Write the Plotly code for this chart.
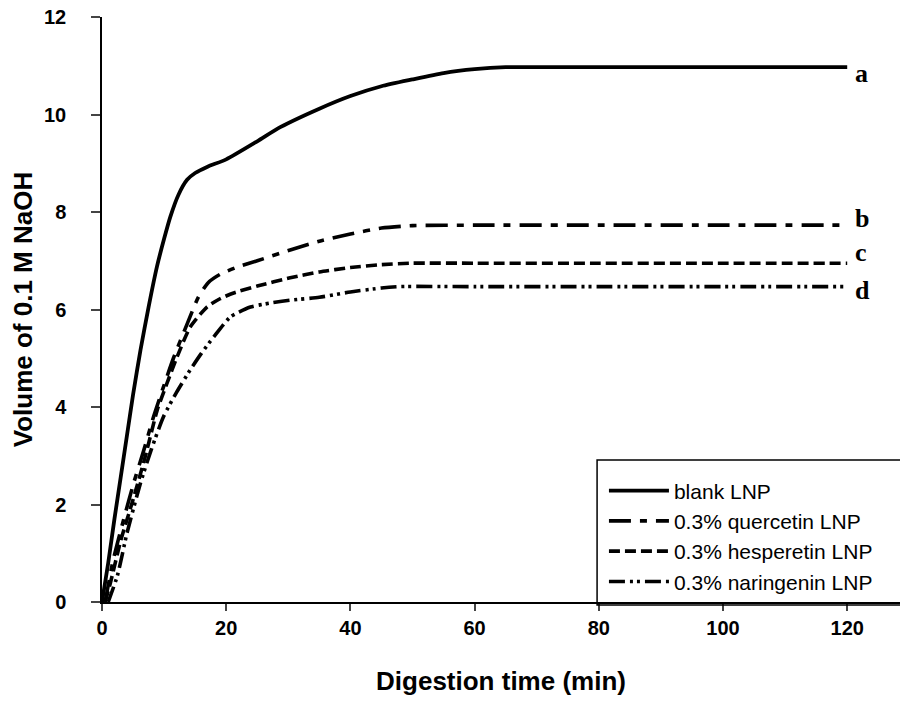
import plotly.graph_objects as go

# ---- data ----
blank_x = [0, 1, 2, 3, 4, 5, 6.2, 7.5, 8.85, 10, 11, 12.3, 13.7, 15, 17, 20, 25, 28.7, 35, 40, 45, 50, 55, 60, 65, 80, 100, 120]
blank_y = [0, 0.8, 1.7, 2.55, 3.4, 4.25, 5.17, 6.05, 6.88, 7.45, 7.9, 8.35, 8.66, 8.8, 8.93, 9.08, 9.45, 9.74, 10.12, 10.38, 10.58, 10.72, 10.85, 10.93, 10.97, 10.97, 10.97, 10.97]

quer_x = [0.5, 1.8, 3.5, 5.1, 6.7, 8.3, 10, 11.5, 13.7, 15.5, 17.1, 19, 21.8, 25, 30.3, 35, 40, 45, 50, 60, 80, 100, 120]
quer_y = [0, 0.86, 1.7, 2.44, 3.1, 3.8, 4.45, 5.0, 5.7, 6.25, 6.55, 6.72, 6.87, 7.0, 7.22, 7.4, 7.55, 7.67, 7.72, 7.73, 7.73, 7.73, 7.73]

hesp_x = [0.5, 1.35, 3, 5, 7, 8.9, 10.5, 12.1, 14.2, 16.9, 19, 21.2, 25, 30.3, 35, 40, 45, 50, 60, 80, 100, 120]
hesp_y = [0, 0.39, 1.25, 2.1, 3.0, 3.94, 4.5, 5.03, 5.64, 6.05, 6.22, 6.34, 6.48, 6.65, 6.77, 6.86, 6.92, 6.95, 6.95, 6.95, 6.95, 6.95]

nari_x = [1, 2.5, 4, 6.2, 8, 9.9, 12, 14.2, 16, 18, 20.7, 23.9, 27, 30.3, 35, 40, 45, 48, 60, 80, 100, 120]
nari_y = [0, 0.55, 1.4, 2.44, 3.15, 3.8, 4.3, 4.76, 5.1, 5.44, 5.85, 6.05, 6.13, 6.19, 6.25, 6.36, 6.44, 6.47, 6.47, 6.47, 6.47, 6.47]

series_names = ["blank LNP", "0.3% quercetin LNP", "0.3% hesperetin LNP", "0.3% naringenin LNP"]
end_labels = ["a", "b", "c", "d"]
label_y = [10.85, 7.86, 7.16, 6.38]

x_ticks = [0, 20, 40, 60, 80, 100, 120]
y_ticks = [0, 2, 4, 6, 8, 10, 12]

xs = [blank_x, quer_x, hesp_x, nari_x]
ys = [blank_y, quer_y, hesp_y, nari_y]
dashes = ["solid", "22px,9px,7px,9px", "11px,5px", "16px,5px,3px,4px,3px,5px"]
widths = [3.8, 3.6, 3.6, 3.6]

fig = go.Figure()
for i in range(4):
    fig.add_trace(go.Scatter(
        x=xs[i], y=ys[i], mode="lines", name=series_names[i],
        line=dict(color="black", width=widths[i], dash=dashes[i], shape="spline", smoothing=0.6),
    ))

for lab, ly in zip(end_labels, label_y):
    fig.add_annotation(x=120, y=ly, xref="x", yref="y", text=lab, showarrow=False,
                       xanchor="left", yanchor="middle", xshift=6,
                       font=dict(family="Liberation Serif", size=26, color="black", weight="bold"))

# legend frame
fig.add_shape(type="rect", xref="paper", yref="paper",
              x0=0.6204, x1=1.02, y0=-0.005, y1=0.2427,
              line=dict(color="black", width=1.5), fillcolor="rgba(0,0,0,0)", layer="above")

axis_font = dict(family="Liberation Sans", size=20, color="black", weight="bold")
title_font = dict(family="Liberation Sans", size=26, color="black", weight="bold")

fig.update_layout(
    width=900, height=701, autosize=False,
    margin=dict(l=102, r=0, t=17, b=99),
    plot_bgcolor="white", paper_bgcolor="white",
    showlegend=True,
    legend=dict(x=0.629, y=0.225, xanchor="left", yanchor="top",
                bgcolor="rgba(0,0,0,0)", borderwidth=0,
                font=dict(family="Liberation Sans", size=21, color="black"),
                tracegroupgap=0, itemwidth=60),
    xaxis=dict(range=[0, 128.5], tickvals=x_ticks, ticks="outside", ticklen=7, tickwidth=1.5,
               showline=True, linecolor="black", linewidth=1.5, showgrid=False, zeroline=False,
               tickfont=axis_font, ticklabelstandoff=0, automargin=False,
               title=dict(text="Digestion time (min)", font=title_font, standoff=34)),
    yaxis=dict(range=[0, 12], tickvals=y_ticks, ticks="outside", ticklen=9, tickwidth=1.5,
               showline=True, linecolor="black", linewidth=1.5, showgrid=False, zeroline=False,
               tickfont=axis_font, ticklabelstandoff=21, automargin=False,
               title=dict(text="Volume of 0.1 M NaOH", font=title_font, standoff=4)),
)

fig.write_html("out.html", config={"displayModeBar": False},
               post_script="document.body.style.margin='0px';")
